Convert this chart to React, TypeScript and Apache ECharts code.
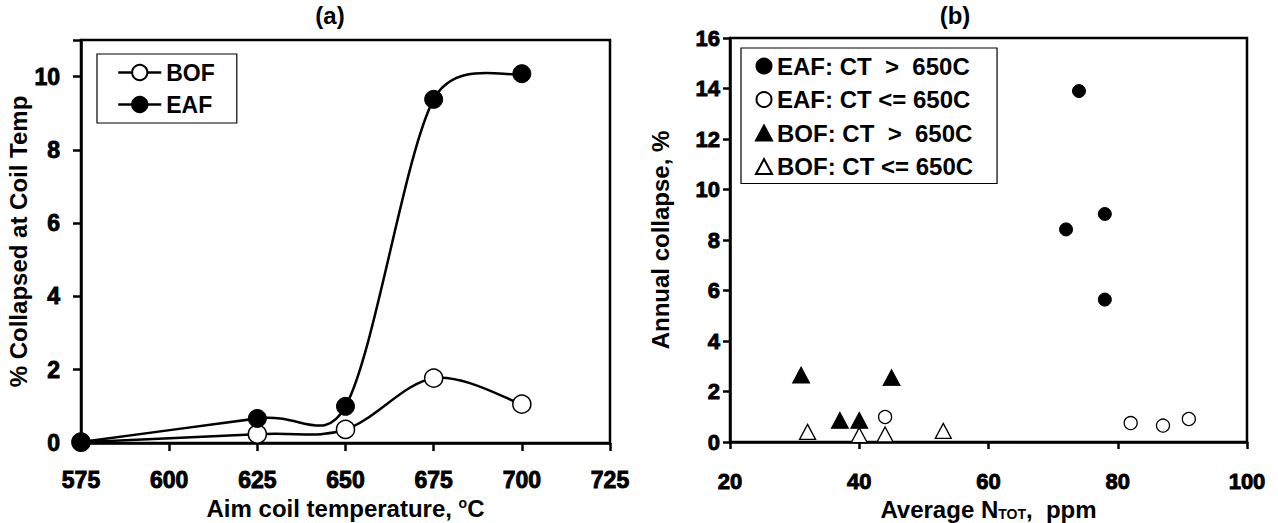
import React, { useEffect, useRef } from "react";
import * as echarts from "echarts";

// ---- Panel (a) data ----
const aimTemps = [575, 625, 650, 675, 700];
const bofCollapsed = [0.02, 0.24, 0.37, 1.77, 1.06];
const eafCollapsed = [0.03, 0.67, 1.0, 9.38, 10.08];
const tempAxis = { min: 575, max: 725, interval: 25 };
const pctAxis = { min: 0, max: 11, interval: 2 };

// ---- Panel (b) data ----
const eafHighN = [74, 72, 78, 78];
const eafHighCollapse = [13.9, 8.42, 9.03, 5.64];
const eafLowN = [44, 82, 87, 91];
const eafLowCollapse = [0.99, 0.75, 0.65, 0.91];
const bofHighN = [31, 37, 40, 45];
const bofHighCollapse = [2.65, 0.86, 0.86, 2.55];
const bofLowN = [32, 40, 44, 53];
const bofLowCollapse = [0.4, 0.27, 0.3, 0.44];
const nAxis = { min: 20, max: 100, interval: 20 };
const annualAxis = { min: 0, max: 16, interval: 2 };

const legendA = ["BOF", "EAF"];
const legendB = [
  "EAF: CT  >  650C",
  "EAF: CT <= 650C",
  "BOF: CT  >  650C",
  "BOF: CT <= 650C",
];

const FONT = "'Liberation Sans', Arial, Helvetica, sans-serif";
const zip = (xs: number[], ys: number[]) => xs.map((x, i) => [x, ys[i]]);

// Excel-like smoothing: tangent = (next - prev) / 6, each arm limited to half its segment
const splineRender = (pts: number[][]) => (params: any, api: any) => {
  const i = params.dataIndex;
  const n = pts.length;
  if (i >= n - 1) return null;
  const P = (k: number) => api.coord(pts[Math.max(0, Math.min(n - 1, k))]);
  const p0 = P(i - 1), p1 = P(i), p2 = P(i + 1), p3 = P(i + 2);
  const arm = (prev: number[], cur: number[], next: number[], toward: number[], sign: number) => {
    let tx = (next[0] - prev[0]) / 6;
    let ty = (next[1] - prev[1]) / 6;
    const len = Math.hypot(tx, ty);
    const lim = 0.5 * Math.hypot(toward[0] - cur[0], toward[1] - cur[1]);
    if (len > lim && len > 0) {
      tx *= lim / len;
      ty *= lim / len;
    }
    return [cur[0] + sign * tx, cur[1] + sign * ty];
  };
  const c1 = arm(p0, p1, p2, p2, 1);
  const c2 = arm(p1, p2, p3, p1, -1);
  return {
    type: "bezierCurve",
    shape: { x1: p1[0], y1: p1[1], x2: p2[0], y2: p2[1], cpx1: c1[0], cpy1: c1[1], cpx2: c2[0], cpy2: c2[1] },
    style: { stroke: "#000", lineWidth: 2.5, fill: null },
  };
};

export default function App() {
  const ref = useRef<HTMLDivElement>(null);
  useEffect(() => {
    if (!ref.current) return;
    const chart = echarts.init(ref.current, null, { renderer: "svg" });
    const axisLine = { show: true, lineStyle: { color: "#000", width: 2.5 } };
    const boldText = (size: number) => ({
      color: "#000",
      fontFamily: FONT,
      fontWeight: "bold" as const,
      fontSize: size,
    });
    const tickLabel = (size: number, margin: number, hideAbove = Infinity) => ({
      ...boldText(size),
      textBorderColor: "#000",
      textBorderWidth: 0.9,
      margin,
      formatter: (v: number) => (v > hideAbove ? "" : String(v)),
    });
    const nameStyle = boldText(24);
    const bofPts = zip(aimTemps, bofCollapsed);
    const eafPts = zip(aimTemps, eafCollapsed);
    chart.setOption({
      animation: false,
      backgroundColor: "#fff",
      textStyle: { fontFamily: FONT, fontWeight: "bold" },
      grid: [
        { left: 81, right: 668, top: 40, bottom: 80, outerBoundsMode: "none", containLabel: false, show: true, borderColor: "#000", borderWidth: 2.5, backgroundColor: "transparent" },
        { left: 730, right: 31, top: 38, bottom: 81, outerBoundsMode: "none", containLabel: false, show: true, borderColor: "#000", borderWidth: 2.5, backgroundColor: "transparent" },
      ],
      graphic: [
        { type: "text", x: 330, y: 15, style: { text: "(a)", fontSize: 24, fontWeight: "bold", fontFamily: FONT, fill: "#000", textAlign: "center", textVerticalAlign: "middle" } },
        { type: "text", x: 955, y: 15, style: { text: "(b)", fontSize: 24, fontWeight: "bold", fontFamily: FONT, fill: "#000", textAlign: "center", textVerticalAlign: "middle" } },
      ],
      legend: [
        {
          data: legendA,
          orient: "vertical",
          left: 97,
          top: 54,
          padding: [7, 22, 7, 20],
          itemGap: 9,
          itemWidth: 43,
          itemHeight: 19,
          borderColor: "#000",
          borderWidth: 1.2,
          backgroundColor: "#fff",
          lineStyle: { color: "#000", width: 2.5, opacity: 1 },
          textStyle: { color: "#000", fontFamily: FONT, fontWeight: "bold", fontSize: 23, lineHeight: 22 },
        },
        {
          data: legendB,
          orient: "vertical",
          left: 741,
          top: 48,
          padding: [6, 24, 5, 14],
          itemGap: 9.5,
          itemWidth: 16,
          itemHeight: 15,
          borderColor: "#000",
          borderWidth: 1.2,
          backgroundColor: "#fff",
          textStyle: { color: "#000", fontFamily: FONT, fontWeight: "bold", fontSize: 24, lineHeight: 24 },
        },
      ],
      xAxis: [
        {
          gridIndex: 0,
          type: "value",
          ...tempAxis,
          name: "Aim coil temperature, {sup|o}C",
          nameLocation: "middle",
          nameGap: 45,
          nameTextStyle: { ...nameStyle, rich: { sup: { ...nameStyle, fontSize: 14, verticalAlign: "top", lineHeight: 14 } } },
          axisLine,
          axisTick: { show: true, inside: false, length: 8, lineStyle: { color: "#000", width: 2.5 } },
          axisLabel: tickLabel(23, 25),
          splitLine: { show: false },
        },
        {
          gridIndex: 1,
          type: "value",
          ...nAxis,
          name: "Average N{sub|TOT},  ppm",
          nameLocation: "middle",
          nameGap: 46,
          nameTextStyle: { ...nameStyle, rich: { sub: { ...nameStyle, fontSize: 14, verticalAlign: "bottom", lineHeight: 14 } } },
          axisLine,
          axisTick: { show: true, inside: false, length: 7, lineStyle: { color: "#000", width: 2.5 } },
          axisLabel: tickLabel(22, 28),
          splitLine: { show: false },
        },
      ],
      yAxis: [
        {
          gridIndex: 0,
          type: "value",
          ...pctAxis,
          name: "% Collapsed at Coil Temp",
          nameLocation: "middle",
          nameGap: 42,
          nameTextStyle: nameStyle,
          axisLine,
          axisTick: { show: true, inside: false, length: 8, lineStyle: { color: "#000", width: 2.5 } },
          axisLabel: tickLabel(23, 21, 10),
          splitLine: { show: false },
        },
        {
          gridIndex: 1,
          type: "value",
          ...annualAxis,
          name: "Annual collapse, %",
          nameLocation: "middle",
          nameGap: 58,
          nameTextStyle: nameStyle,
          axisLine,
          axisTick: { show: true, inside: false, length: 7, lineStyle: { color: "#000", width: 2.5 } },
          axisLabel: tickLabel(22, 10),
          splitLine: { show: false },
        },
      ],
      series: [
        {
          name: "BOF curve",
          type: "custom",
          xAxisIndex: 0,
          yAxisIndex: 0,
          data: bofPts,
          renderItem: splineRender(bofPts),
          z: 2,
        },
        {
          name: "EAF curve",
          type: "custom",
          xAxisIndex: 0,
          yAxisIndex: 0,
          data: eafPts,
          renderItem: splineRender(eafPts),
          z: 2,
        },
        {
          name: "BOF",
          type: "line",
          xAxisIndex: 0,
          yAxisIndex: 0,
          data: bofPts,
          symbol: "circle",
          symbolSize: 18,
          lineStyle: { color: "#000", width: 2.5, opacity: 0 },
          itemStyle: { color: "#fff", borderColor: "#000", borderWidth: 1.5, opacity: 1 },
          z: 3,
        },
        {
          name: "EAF",
          type: "line",
          xAxisIndex: 0,
          yAxisIndex: 0,
          data: eafPts,
          symbol: "circle",
          symbolSize: 18,
          lineStyle: { color: "#000", width: 2.5, opacity: 0 },
          itemStyle: { color: "#000", borderColor: "#000", borderWidth: 1, opacity: 1 },
          z: 4,
        },
        {
          name: legendB[0],
          type: "scatter",
          xAxisIndex: 1,
          yAxisIndex: 1,
          data: zip(eafHighN, eafHighCollapse),
          symbol: "circle",
          symbolSize: 13,
          itemStyle: { color: "#000", borderColor: "#000", borderWidth: 1, opacity: 1 },
        },
        {
          name: legendB[1],
          type: "scatter",
          xAxisIndex: 1,
          yAxisIndex: 1,
          data: zip(eafLowN, eafLowCollapse),
          symbol: "circle",
          symbolSize: 13,
          itemStyle: { color: "#fff", borderColor: "#000", borderWidth: 1.3, opacity: 1 },
        },
        {
          name: legendB[2],
          type: "scatter",
          xAxisIndex: 1,
          yAxisIndex: 1,
          data: zip(bofHighN, bofHighCollapse),
          symbol: "triangle",
          symbolSize: [17, 16],
          itemStyle: { color: "#000", borderColor: "#000", borderWidth: 1, opacity: 1 },
        },
        {
          name: legendB[3],
          type: "scatter",
          xAxisIndex: 1,
          yAxisIndex: 1,
          data: zip(bofLowN, bofLowCollapse),
          symbol: "triangle",
          symbolSize: [16, 15],
          itemStyle: { color: "#fff", borderColor: "#000", borderWidth: 1.3, opacity: 1 },
        },
      ],
    });
    return () => chart.dispose();
  }, []);
  return (
    <div
      ref={ref}
      style={{ position: "fixed", left: 0, top: 0, width: 1278, height: 523, background: "#fff" }}
    />
  );
}
